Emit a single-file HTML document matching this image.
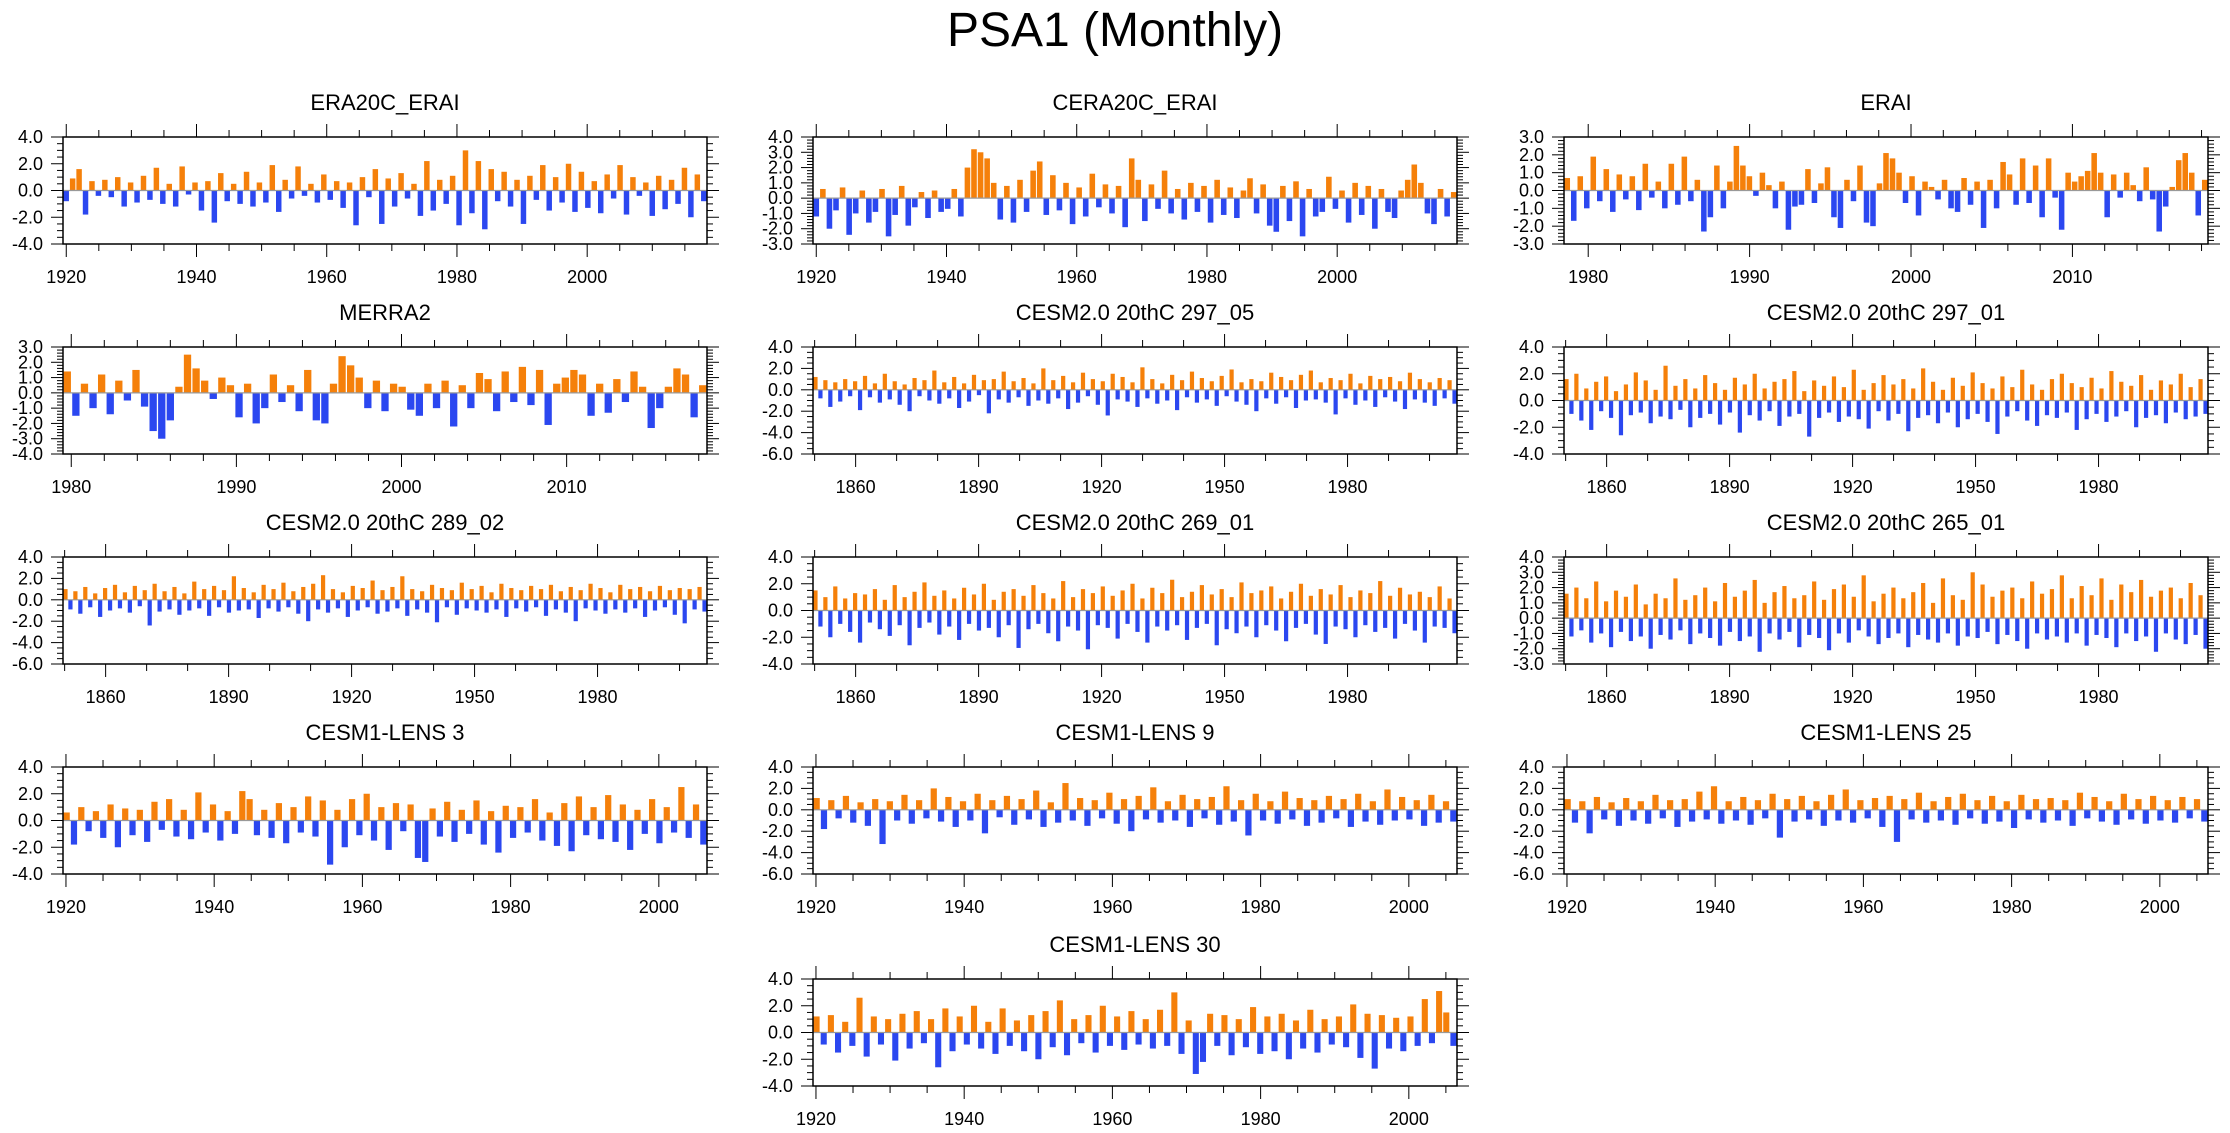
<!DOCTYPE html>
<html><head><meta charset="utf-8"><title>PSA1 (Monthly)</title>
<style>
html,body{margin:0;padding:0;background:#fff;}
svg{display:block;font-family:"Liberation Sans",Arial,sans-serif;}
</style></head>
<body>
<svg id="chart" width="2230" height="1133" viewBox="0 0 2230 1133" xmlns="http://www.w3.org/2000/svg">
<rect width="2230" height="1133" fill="#fff"/>
<text x="1115" y="46" text-anchor="middle" font-size="48" fill="#000">PSA1 (Monthly)</text>
</svg>
<script>
const era20cValues = [-0.8,0.9,1.6,-1.8,0.7,-0.4,0.8,-0.5,1.0,-1.2,0.6,-0.9,1.1,-0.7,1.7,-1.0,0.5,-1.2,1.8,-0.3,0.6,-1.5,0.7,-2.4,1.3,-0.8,0.5,-1.0,1.4,-1.2,0.6,-0.9,1.9,-1.6,0.8,-0.6,1.8,-0.4,0.5,-0.9,1.2,-0.7,0.7,-1.3,0.6,-2.6,1.0,-0.5,1.6,-2.5,0.9,-1.2,1.3,-0.6,0.5,-1.9,2.2,-1.5,0.8,-1.0,1.1,-2.6,3.0,-1.7,2.2,-2.9,1.6,-0.8,1.4,-1.2,0.8,-2.5,1.1,-0.7,1.9,-1.5,1.0,-0.9,2.0,-1.6,1.4,-1.3,0.7,-1.7,1.2,-0.6,1.9,-1.8,1.0,-0.4,0.6,-1.9,1.1,-1.4,0.8,-1.0,1.7,-2.0,1.2,-0.8];
const cera20cValues = [-1.2,0.6,-2.0,-0.8,0.7,-2.4,-1.0,0.5,-1.6,-0.9,0.6,-2.5,-1.1,0.8,-1.8,-0.6,0.4,-1.3,0.5,-0.9,-0.7,0.6,-1.2,2.0,3.2,3.0,2.6,1.0,-1.4,0.8,-1.6,1.2,-0.9,1.8,2.4,-1.1,1.5,-0.8,1.0,-1.7,0.7,-1.2,1.6,-0.6,0.9,-1.0,0.8,-1.9,2.6,1.2,-1.5,0.9,-0.7,1.8,-1.0,0.6,-1.4,1.0,-0.9,0.8,-1.6,1.2,-1.1,0.7,-1.3,0.5,1.3,-1.0,0.9,-1.8,-2.2,0.8,-1.5,1.1,-2.5,0.6,-1.2,-0.9,1.4,-0.7,0.5,-1.6,1.0,-1.1,0.8,-2.0,0.6,-0.9,-1.3,0.5,1.2,2.2,1.0,-1.0,-1.7,0.6,-1.2,0.4];
const eraiValues = [0.7,-1.7,0.8,-1.0,1.9,-0.6,1.2,-1.2,0.9,-0.5,0.8,-1.1,1.5,-0.4,0.5,-1.0,1.5,-0.8,1.9,-0.6,0.6,-2.3,-1.5,1.4,-1.0,0.5,2.5,1.4,0.8,-0.3,1.0,0.3,-1.0,0.5,-2.2,-0.9,-0.8,1.2,-0.7,0.4,1.3,-1.5,-2.1,0.6,-0.6,1.4,-1.8,-2.0,0.4,2.1,1.8,1.0,-0.7,0.8,-1.4,0.5,0.2,-0.5,0.6,-1.0,-1.2,0.7,-0.8,0.5,-2.1,0.6,-1.0,1.6,0.9,-0.8,1.8,-0.7,1.4,-1.5,1.8,-0.4,-2.2,1.0,0.5,0.8,1.1,2.1,1.0,-1.5,0.9,-0.4,1.0,0.3,-0.6,1.3,-0.5,-2.3,-0.9,0.2,1.7,2.1,1.0,-1.4,0.6];
const merra2Values = [1.4,-1.5,0.6,-1.0,1.2,-1.4,0.8,-0.5,1.5,-0.9,-2.5,-3.0,-1.8,0.4,2.5,1.6,0.8,-0.4,1.0,0.5,-1.6,0.6,-2.0,-1.0,1.2,-0.6,0.5,-1.2,1.5,-1.8,-2.0,0.6,2.4,1.8,1.0,-1.0,0.8,-1.2,0.6,0.4,-1.1,-1.5,0.6,-1.0,0.8,-2.2,0.5,-1.0,1.3,0.9,-1.2,1.4,-0.6,1.7,-0.8,1.5,-2.1,0.6,1.0,1.5,1.2,-1.5,0.6,-1.3,0.9,-0.6,1.4,0.4,-2.3,-1.0,0.4,1.6,1.2,-1.6,0.5];
const c29705Values = [1.2,-0.8,0.9,-1.6,0.7,-1.1,1.0,-0.6,0.8,-1.9,1.3,-0.7,0.6,-1.2,1.5,-0.9,0.8,-1.4,0.5,-2.0,1.1,-0.6,0.9,-1.0,1.8,-1.3,0.7,-0.8,1.2,-1.7,0.6,-1.1,1.4,-0.5,0.9,-2.2,1.0,-0.9,1.7,-1.2,0.8,-0.7,1.1,-1.5,0.6,-1.0,2.0,-1.3,0.9,-0.8,1.3,-1.8,0.7,-1.2,1.6,-0.6,1.0,-1.4,0.8,-2.4,1.5,-0.9,1.2,-1.1,0.7,-1.6,2.1,-0.8,1.0,-1.3,0.6,-1.0,1.4,-1.9,0.9,-0.7,1.7,-1.2,1.1,-0.9,0.8,-1.5,1.3,-0.6,1.9,-1.1,0.7,-1.4,1.0,-2.0,0.8,-0.8,1.6,-1.3,1.2,-0.7,0.9,-1.7,1.4,-1.0,1.8,-0.9,0.7,-1.2,1.1,-2.3,0.9,-0.8,1.5,-1.4,0.6,-1.0,1.3,-1.6,1.0,-0.7,1.2,-1.1,0.8,-1.8,1.6,-0.9,1.0,-1.2,0.7,-1.5,1.1,-0.8,0.9,-1.3];
const c29701Values = [1.6,-1.0,2.0,-1.5,0.9,-2.2,1.4,-0.8,1.8,-1.3,0.7,-2.6,1.2,-1.1,2.1,-0.9,1.5,-1.7,0.8,-1.2,2.6,-1.4,1.1,-0.7,1.6,-2.0,0.9,-1.3,1.9,-1.0,1.3,-1.8,0.8,-0.9,1.7,-2.4,1.2,-1.1,2.0,-1.5,0.9,-0.8,1.4,-1.9,1.6,-1.2,2.2,-1.0,0.7,-2.7,1.5,-1.3,1.1,-0.9,1.8,-1.6,1.0,-1.2,2.3,-1.4,0.8,-2.1,1.3,-0.8,1.9,-1.5,1.2,-1.0,1.6,-2.3,0.9,-1.3,2.4,-1.1,1.4,-1.7,0.8,-0.9,1.7,-2.0,1.1,-1.4,2.1,-1.0,1.3,-1.6,0.9,-2.5,1.8,-1.2,1.0,-0.8,2.3,-1.5,1.2,-1.9,0.8,-1.1,1.6,-1.3,2.0,-0.9,1.3,-2.2,1.0,-1.4,1.7,-1.0,0.9,-1.6,2.2,-1.2,1.4,-0.8,1.1,-2.0,1.9,-1.3,0.8,-1.1,1.5,-1.7,1.2,-0.9,2.0,-1.4,1.0,-1.2,1.6,-1.0];
const c28902Values = [1.0,-0.9,0.8,-1.3,1.2,-0.7,0.6,-1.6,1.1,-1.0,1.4,-0.8,0.7,-1.2,1.3,-0.6,0.9,-2.4,1.5,-1.1,0.8,-0.9,1.2,-1.4,0.6,-1.0,1.7,-0.8,1.0,-1.5,1.3,-0.7,0.9,-1.2,2.2,-1.0,1.1,-0.9,0.7,-1.7,1.4,-0.8,1.0,-1.1,1.6,-0.7,0.8,-1.3,1.2,-2.0,1.5,-0.9,2.3,-1.2,1.0,-0.8,0.7,-1.6,1.3,-1.0,1.1,-0.7,1.8,-1.3,0.9,-1.1,1.2,-0.8,2.2,-1.5,1.0,-0.9,0.8,-1.2,1.4,-2.1,1.1,-0.7,0.9,-1.4,1.6,-0.8,1.0,-1.0,1.3,-1.2,0.7,-0.9,1.5,-1.6,1.1,-0.8,0.9,-1.1,1.3,-0.7,1.0,-1.5,1.4,-0.9,0.8,-1.2,1.2,-2.0,0.9,-0.8,1.5,-1.0,1.1,-1.3,0.7,-0.9,1.4,-1.2,1.0,-0.8,1.2,-1.6,0.8,-1.0,1.3,-0.7,0.9,-1.4,1.1,-2.2,1.0,-0.9,1.2,-1.1];
const c26901Values = [1.5,-1.2,1.0,-2.0,1.8,-1.0,0.9,-1.6,1.3,-2.4,1.2,-0.9,1.6,-1.4,0.8,-1.9,1.9,-1.1,1.0,-2.6,1.4,-1.3,2.1,-0.9,1.1,-1.8,1.5,-1.2,0.9,-2.2,1.7,-1.0,1.2,-1.5,2.0,-1.3,0.8,-2.0,1.4,-1.1,1.6,-2.8,1.1,-1.4,1.9,-1.0,1.3,-1.7,0.9,-2.3,2.2,-1.2,1.0,-1.5,1.6,-2.9,1.3,-1.1,1.8,-1.3,1.1,-2.1,1.5,-1.0,2.0,-1.6,0.9,-2.4,1.7,-1.2,1.3,-1.5,2.3,-1.1,1.0,-2.2,1.4,-1.3,1.9,-1.0,1.2,-2.6,1.6,-1.4,1.0,-1.7,2.1,-1.2,1.3,-2.0,1.5,-1.1,1.8,-1.5,0.9,-2.3,1.4,-1.3,2.0,-1.0,1.1,-1.8,1.6,-2.5,1.2,-1.2,1.9,-1.4,1.0,-2.0,1.5,-1.1,1.3,-1.6,2.2,-1.3,1.1,-2.1,1.7,-1.0,1.2,-1.5,1.4,-2.4,1.0,-1.2,1.8,-1.3,0.9,-1.7];
const c26501Values = [1.6,-1.2,2.0,-0.8,1.3,-1.6,2.4,-1.0,1.1,-1.9,1.8,-0.9,1.4,-1.5,2.2,-1.2,0.9,-2.0,1.6,-1.1,1.3,-1.4,2.6,-0.8,1.2,-1.7,1.5,-1.0,2.0,-1.3,1.1,-1.8,2.3,-0.9,1.4,-1.5,1.8,-1.2,2.5,-2.2,1.0,-1.0,1.7,-1.4,2.1,-0.9,1.3,-1.9,1.5,-1.1,2.4,-1.3,1.2,-2.1,1.9,-1.0,2.2,-1.6,1.4,-0.8,2.8,-1.2,1.1,-1.7,1.6,-1.3,2.0,-1.0,1.3,-1.9,1.7,-1.1,2.3,-1.4,1.0,-1.6,2.6,-1.0,1.5,-1.8,1.2,-1.2,3.0,-1.3,2.2,-0.9,1.4,-1.7,1.8,-1.1,2.0,-1.5,1.3,-2.0,2.4,-1.0,1.6,-1.4,1.9,-1.2,2.8,-1.6,1.3,-1.0,2.1,-1.8,1.5,-1.1,2.6,-1.3,1.2,-1.9,2.2,-1.0,1.7,-1.5,2.5,-1.2,1.4,-2.2,1.8,-1.0,2.0,-1.4,1.3,-1.7,2.3,-1.1,1.5,-2.0];
const lens3Values = [0.6,-1.8,1.0,-0.8,0.7,-1.3,1.2,-2.0,0.9,-1.1,0.8,-1.6,1.4,-0.7,1.6,-1.2,0.8,-1.4,2.1,-0.9,1.2,-1.5,0.7,-1.0,2.2,1.6,-1.1,0.8,-1.3,1.3,-1.7,1.0,-0.9,1.8,-1.2,1.5,-3.3,0.8,-2.0,1.6,-1.1,2.0,-1.5,1.0,-2.2,1.3,-0.8,1.2,-2.8,-3.1,0.9,-1.2,1.4,-1.6,0.8,-1.0,1.5,-1.8,0.7,-2.4,1.1,-1.3,1.0,-0.9,1.6,-1.5,0.6,-1.9,1.3,-2.3,1.8,-1.1,1.0,-1.4,1.9,-1.6,1.2,-2.2,0.8,-1.0,1.6,-1.7,1.0,-0.9,2.5,-1.3,1.2,-1.8];
const lens9Values = [1.1,-1.8,0.9,-0.8,1.3,-1.2,0.7,-1.5,1.0,-3.2,0.8,-1.0,1.4,-1.3,0.9,-0.8,2.0,-1.1,1.2,-1.6,0.8,-1.0,1.5,-2.2,0.9,-0.7,1.3,-1.4,1.0,-0.9,1.8,-1.6,0.7,-1.2,2.5,-1.0,1.1,-1.5,0.9,-0.8,1.6,-1.3,1.0,-2.0,1.3,-0.9,2.1,-1.2,0.8,-1.0,1.4,-1.6,1.0,-0.8,1.2,-1.4,2.2,-1.1,0.9,-2.4,1.5,-1.0,0.8,-1.3,1.7,-0.9,1.1,-1.5,0.9,-1.2,1.3,-0.8,1.0,-1.6,1.5,-1.1,0.8,-1.4,1.9,-1.0,1.2,-0.9,0.9,-1.5,1.4,-1.2,0.8,-1.1];
const lens25Values = [1.0,-1.2,0.8,-2.2,1.2,-0.9,0.7,-1.5,1.1,-1.0,0.8,-1.3,1.4,-0.8,0.9,-1.6,1.0,-1.1,1.7,-0.9,2.2,-1.3,0.8,-1.0,1.2,-1.4,0.9,-0.8,1.5,-2.6,1.0,-1.1,1.3,-0.9,0.8,-1.5,1.4,-1.0,1.9,-1.2,0.9,-0.8,1.1,-1.6,1.3,-3.0,1.0,-0.9,1.6,-1.2,0.8,-1.0,1.2,-1.4,1.5,-0.8,0.9,-1.3,1.3,-1.1,0.8,-1.7,1.4,-0.9,1.0,-1.2,1.1,-1.0,0.9,-1.5,1.6,-0.8,1.2,-1.1,0.8,-1.4,1.5,-0.9,1.0,-1.3,1.3,-1.0,0.9,-1.2,1.2,-0.8,1.0,-1.1];
const lens30Values = [1.2,-0.9,1.3,-1.5,0.8,-1.0,2.6,-1.8,1.2,-0.9,1.0,-2.1,1.4,-1.2,1.6,-0.8,1.0,-2.6,1.8,-1.4,1.2,-0.9,2.0,-1.2,0.8,-1.6,1.8,-1.0,0.9,-1.4,1.3,-2.0,1.6,-1.1,2.4,-1.7,1.0,-0.8,1.3,-1.5,2.0,-1.0,1.2,-1.3,1.6,-0.9,1.0,-1.2,1.7,-1.0,3.0,-1.6,0.9,-3.1,-2.2,1.4,-1.0,1.3,-1.7,1.0,-1.1,1.9,-1.6,1.2,-1.4,1.4,-2.0,0.9,-1.2,1.7,-1.5,1.0,-0.9,1.2,-1.1,2.1,-1.9,1.4,-2.7,1.3,-1.2,1.1,-1.4,1.2,-1.0,2.5,-0.8,3.1,1.5,-1.0];

const panelTitles = ["ERA20C_ERAI","CERA20C_ERAI","ERAI","MERRA2","CESM2.0 20thC 297_05","CESM2.0 20thC 297_01","CESM2.0 20thC 289_02","CESM2.0 20thC 269_01","CESM2.0 20thC 265_01","CESM1-LENS 3","CESM1-LENS 9","CESM1-LENS 25","CESM1-LENS 30"];
const panelSeries = [era20cValues,cera20cValues,eraiValues,merra2Values,c29705Values,c29701Values,c28902Values,c26901Values,c26501Values,lens3Values,lens9Values,lens25Values,lens30Values];
const panelYMin = [-4,-3,-3,-4,-6,-4,-6,-4,-3,-4,-6,-6,-4];
const panelYMax = [4,4,3,3,4,4,4,4,4,4,4,4,4];
const panelYStep = [2,1,1,1,2,2,2,2,1,2,2,2,2];
const panelXStart = [1919.5,1919.5,1978.5,1979.5,1849.6,1849.6,1849.6,1849.6,1849.6,1919.6,1919.6,1919.6,1919.6];
const panelXEnd = [2018.4,2018.4,2018.4,2018.5,2006.7,2006.7,2006.7,2006.7,2006.7,2006.5,2006.5,2006.5,2006.5];
const panelXLabelFirst = [1920,1920,1980,1980,1860,1860,1860,1860,1860,1920,1920,1920,1920];
const panelXLabelStep = [20,20,10,10,30,30,30,30,30,20,20,20,20];

const NS = "http://www.w3.org/2000/svg";
const svg = document.getElementById("chart");
const colLeft = [63,813,1564];
const rowTop = [137,347,557,767,979];
const boxW = 644, boxH = 107;
const slots = [[0,0],[1,0],[2,0],[0,1],[1,1],[2,1],[0,2],[1,2],[2,2],[0,3],[1,3],[2,3],[1,4]];

function mk(tag, attrs, parent){
  const e = document.createElementNS(NS, tag);
  for (const k in attrs) e.setAttribute(k, attrs[k]);
  parent.appendChild(e);
  return e;
}
function fmt(v){ return v.toFixed(1); }

panelTitles.forEach((title, p) => {
  const L = colLeft[slots[p][0]], T = rowTop[slots[p][1]], R = L + boxW, B = T + boxH;
  const x0 = panelXStart[p], x1 = panelXEnd[p], yMin = panelYMin[p], yMax = panelYMax[p];
  const xs = v => L + (v - x0) / (x1 - x0) * boxW;
  const ys = v => B - (v - yMin) / (yMax - yMin) * boxH;
  const slug = title.toLowerCase().replace(/[^a-z0-9]+/g, "-");
  const g = mk("g", {}, svg);
  
  

  const t = mk("text", {x: (L + R) / 2, y: T - 27, "text-anchor": "middle", "font-size": 22, fill: "#000"}, g);
  t.textContent = title;
  
  

  const vals = panelSeries[p];
  const n = vals.length, step = boxW / n;
  const bars = mk("g", {}, g);
  
  
  vals.forEach((v, i) => {
    const xv = x0 + (i + 0.5) * (x1 - x0) / n;
    const cx = xs(xv);
    const y0 = ys(0), yv = ys(v);
    const bw = Math.max(1.2, step * 0.85);
    const r = mk("rect", {x: (cx - bw / 2).toFixed(2), y: Math.min(y0, yv).toFixed(2), width: bw.toFixed(2), height: Math.abs(yv - y0).toFixed(2), fill: v >= 0 ? "#f5800a" : "#2b47f0"}, bars);
    
    
  });

  const zl = mk("line", {x1: L, x2: R, y1: ys(0), y2: ys(0), stroke: "#999", "stroke-width": 1.2}, g);
  
  

  const fr = mk("rect", {x: L, y: T, width: boxW, height: boxH, fill: "none", stroke: "#000", "stroke-width": 1.5}, g);
  
  

  const ys_ = panelYStep[p], minorY = ys_ === 2 ? 0.5 : 0.2;
  const nMinor = Math.round((yMax - yMin) / minorY);
  for (let k = 0; k <= nMinor; k++) {
    const v = yMin + k * minorY;
    const isMajor = Math.abs(v / ys_ - Math.round(v / ys_)) < 1e-6;
    const len = isMajor ? 12 : 6, yy = ys(v);
    mk("line", {x1: L, x2: L - len, y1: yy, y2: yy, stroke: "#000", "stroke-width": 1}, g);
    mk("line", {x1: R, x2: R + len, y1: yy, y2: yy, stroke: "#000", "stroke-width": 1}, g);
    if (isMajor) {
      const lb = mk("text", {x: L - 20, y: yy + 6, "text-anchor": "end", "font-size": 18, fill: "#000"}, g);
      lb.textContent = fmt(v);
      
      
    }
  }

  const xsStep = panelXLabelStep[p], xMinor = xsStep === 20 ? 5 : (xsStep === 10 ? 2 : 10);
  let start = panelXLabelFirst[p];
  while (start - xMinor >= x0) start -= xMinor;
  for (let yr = start; yr <= x1; yr += xMinor) {
    const isMajor = ((yr - panelXLabelFirst[p]) % xsStep + xsStep) % xsStep === 0;
    const len = isMajor ? 13 : 7, xx = xs(yr);
    mk("line", {x1: xx, x2: xx, y1: T, y2: T - len, stroke: "#000", "stroke-width": 1}, g);
    mk("line", {x1: xx, x2: xx, y1: B, y2: B + len, stroke: "#000", "stroke-width": 1}, g);
    if (isMajor) {
      const lb = mk("text", {x: xx, y: B + 39, "text-anchor": "middle", "font-size": 18, fill: "#000"}, g);
      lb.textContent = String(yr);
      
      
    }
  }
});
</script>
</body></html>
